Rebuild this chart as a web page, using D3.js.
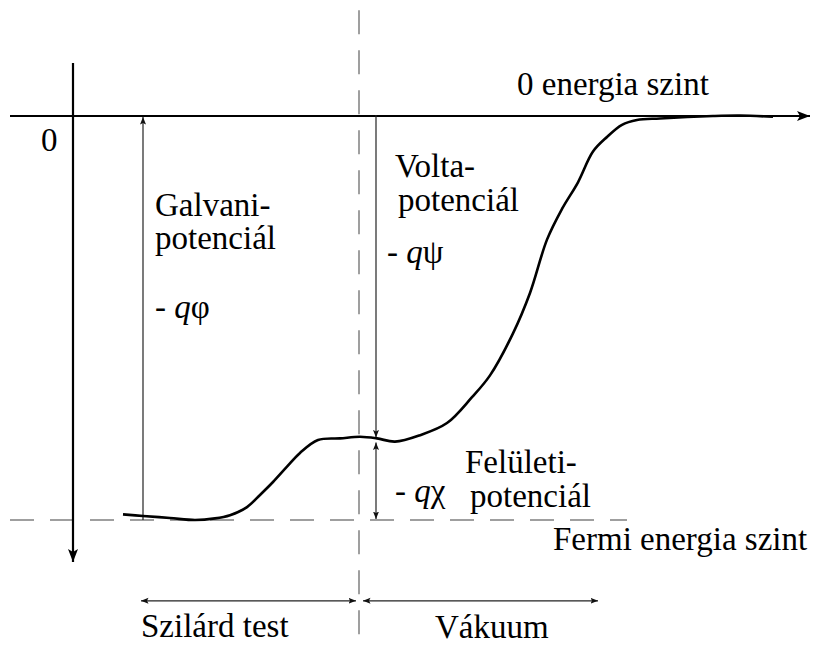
<!DOCTYPE html>
<html>
  <head>
    <meta charset="utf-8">
    <title>Energy levels at a solid / vacuum interface</title>
    <script src="https://d3js.org/d3.v7.min.js"></script>
    <style>
      body { margin: 0; background: #fff; }
    </style>
  </head>
  <body>
    <svg id="chart" width="816" height="645"></svg>

    <script>
      // potential energy curve across the interface (position, energy)
      var curvePos    = [-23.6, -21.6, -18.9, -16.4, -14.4, -12.9, -11.2, -9.9, -8.6, -7.2, -5.9, -4.1, -1.9, 0.1, 1.8, 3.6, 6.1, 8.8, 11.3, 13.1, 15.4, 17.1, 18.8, 20.3, 21.9, 23.4, 24.8, 26.3, 27.8, 30.1, 35.4, 38.1, 41.4];
      var curveEnergy = [-4.93, -4.95, -4.975, -5.0, -4.98, -4.94, -4.84, -4.69, -4.53, -4.34, -4.17, -4.01, -3.99, -3.97, -3.99, -4.03, -3.95, -3.80, -3.48, -3.21, -2.69, -2.19, -1.53, -1.15, -0.82, -0.44, -0.26, -0.11, -0.05, -0.03, 0, 0.006, -0.01];

      // levels
      var vacuumLevel = 0;
      var fermiLevel = -5;
      var surfaceLevel = -3.99;   // curve value just outside the surface
      var interfacePos = 0;

      // where the measuring arrows stand
      var galvaniPos = -21.6;
      var voltaPos = 1.7;
      var regionLevel = -6;
      var solidRange = [-21.8, -0.3];
      var vacuumRange = [0.4, 23.9];

      var svg = d3.select("#chart");

      var x = d3.scaleLinear().domain([-35, 45]).range([9, 809]);
      var y = d3.scaleLinear().domain([0, -5]).range([116, 520]);

      var defs = svg.append("defs");
      defs.append("marker")
          .attr("id", "big")
          .attr("viewBox", "0 -6 14 12")
          .attr("refX", 13).attr("refY", 0)
          .attr("markerUnits", "userSpaceOnUse")
          .attr("markerWidth", 14).attr("markerHeight", 12)
          .attr("orient", "auto")
        .append("path")
          .attr("d", "M0,-5L13,0L0,5L3,0Z")
          .attr("fill", "#000");
      defs.append("marker")
          .attr("id", "small")
          .attr("viewBox", "0 -4 8 8")
          .attr("refX", 7.5).attr("refY", 0)
          .attr("markerUnits", "userSpaceOnUse")
          .attr("markerWidth", 8).attr("markerHeight", 8)
          .attr("orient", "auto-start-reverse")
        .append("path")
          .attr("d", "M0,-3L7.5,0L0,3L1.5,0Z")
          .attr("fill", "#111");

      // dashed guides: interface and Fermi level
      svg.append("line")
          .attr("x1", x(interfacePos)).attr("x2", x(interfacePos))
          .attr("y1", y(1.31)).attr("y2", y(-6.6))
          .attr("stroke", "#808080").attr("stroke-width", 1.5)
          .attr("stroke-dasharray", "24,16");
      svg.append("line")
          .attr("x1", x(-34.9)).attr("x2", x(26.8))
          .attr("y1", y(fermiLevel)).attr("y2", y(fermiLevel))
          .attr("stroke", "#808080").attr("stroke-width", 1.5)
          .attr("stroke-dasharray", "24,16");

      // axes
      svg.append("line")
          .attr("x1", x(-34.9)).attr("x2", x(45.1))
          .attr("y1", y(vacuumLevel)).attr("y2", y(vacuumLevel))
          .attr("stroke", "#000").attr("stroke-width", 2.2)
          .attr("marker-end", "url(#big)");
      svg.append("line")
          .attr("x1", x(-28.6)).attr("x2", x(-28.6))
          .attr("y1", y(0.656)).attr("y2", y(-5.52))
          .attr("stroke", "#000").attr("stroke-width", 2.2)
          .attr("marker-end", "url(#big)");

      // measuring arrows
      function arrow(x1, y1, x2, y2, both) {
        var l = svg.append("line")
            .attr("x1", x1).attr("y1", y1).attr("x2", x2).attr("y2", y2)
            .attr("stroke", "#222").attr("stroke-width", 1.2)
            .attr("marker-end", "url(#small)");
        if (both) l.attr("marker-start", "url(#small)");
        return l;
      }
      // Galvani: head only at the top
      arrow(x(galvaniPos), y(fermiLevel), x(galvaniPos), y(vacuumLevel) + 1, false);
      // Volta: from 0 level down to the surface
      arrow(x(voltaPos), y(vacuumLevel) - 1, x(voltaPos), y(surfaceLevel) - 1, false);
      // surface potential
      arrow(x(voltaPos), y(surfaceLevel) + 4, x(voltaPos), y(fermiLevel) - 1, true);
      // regions
      arrow(x(solidRange[0]), y(regionLevel), x(solidRange[1]), y(regionLevel), true);
      arrow(x(vacuumRange[0]), y(regionLevel), x(vacuumRange[1]), y(regionLevel), true);

      // the curve
      var line = d3.line()
          .x(d => x(d[0]))
          .y(d => y(d[1]))
          .curve(d3.curveCatmullRom.alpha(0.5));

      svg.append("path")
          .datum(d3.zip(curvePos, curveEnergy))
          .attr("d", line)
          .attr("fill", "none")
          .attr("stroke", "#000")
          .attr("stroke-width", 2.6)
          .attr("stroke-linejoin", "round");

      // labels (Times-like serif)
      function label(tx, ty, str) {
        return svg.append("text")
            .attr("x", tx).attr("y", ty)
            .style("font-family", "'Liberation Serif'")
            .style("font-size", "33px")
            .style("fill", "#000")
            .text(str);
      }
      function symbol(tx, ty, greek) {
        var t = label(tx, ty, "- ");
        t.append("tspan").style("font-style", "italic").text("q");
        t.append("tspan").text(greek);
      }

      label(517, 95, "0 energia szint");
      label(41, 151, "0");
      label(155, 216, "Galvani-");
      label(155, 249, "potenciál");
      symbol(155, 318, "φ");
      label(395, 177, "Volta-");
      label(398, 211, "potenciál");
      symbol(387, 263, "ψ");
      label(465, 473, "Felületi-");
      label(470, 507, "potenciál");
      symbol(395, 502, "χ");
      label(553, 550, "Fermi energia szint");
      label(141, 637, "Szilárd test");
      label(435, 638, "Vákuum");
    </script>
  </body>
</html>
